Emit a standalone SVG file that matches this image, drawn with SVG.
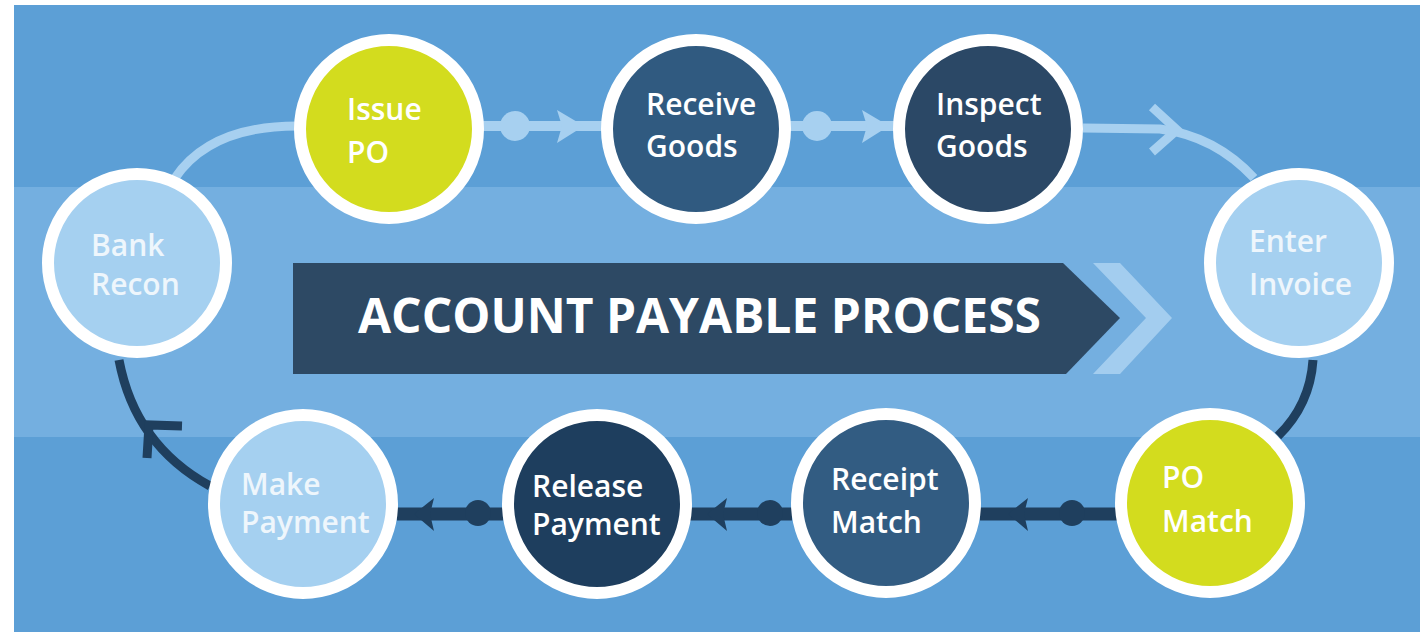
<svg xmlns="http://www.w3.org/2000/svg" width="1420" height="634" viewBox="0 0 1420 634">
<defs>
<style>
.node{stroke:#ffffff;stroke-width:12}
.lbl{font-family:"Open Sans","Liberation Sans",sans-serif;font-weight:600;font-size:30px;fill:#ffffff}
.lbl-soft{fill:#eef6fc}
.lt{stroke:#a7d0f0;stroke-width:9;fill:none}
.dk{stroke:#1f3f5e;stroke-width:9;fill:none}
.dkb{stroke:#1f3f5e;stroke-width:13;fill:none}
.ltb{stroke:#a7d0f0;stroke-width:10;fill:none}
</style>
</defs>
<rect x="0" y="0" width="1420" height="634" fill="#ffffff"/>
<rect x="14" y="5" width="1406" height="627" fill="#5c9fd6"/>
<rect x="14" y="187" width="1406" height="250" fill="#74afe0"/>

<g id="banner">
<polygon points="293,263 1063,263 1120,318 1066,374 293,374" fill="#2d4964"/>
<polygon points="1093,263 1120,263 1172,318 1120,374 1093,374 1146,318" fill="#a3cdef"/>
<text x="358" y="333" font-family="'Open Sans','Liberation Sans',sans-serif" font-weight="700" font-size="48" fill="#ffffff" textLength="683" lengthAdjust="spacingAndGlyphs">ACCOUNT PAYABLE PROCESS</text>
</g>

<g id="connectors">
<path class="lt" d="M 175 178 Q 210 126 297 126"/>
<line class="ltb" x1="483" y1="126" x2="602" y2="126"/>
<circle cx="515" cy="126" r="15" fill="#a7d0f0"/>
<polygon points="557,110 584,126 557,143 562,126" fill="#a7d0f0"/>
<line class="ltb" x1="790" y1="126" x2="895" y2="126"/>
<circle cx="817" cy="126" r="15" fill="#a7d0f0"/>
<polygon points="862,110 889,126 862,143 867,126" fill="#a7d0f0"/>
<path class="lt" d="M 1083 128 L 1160 129 Q 1215 136 1254 178"/>
<polyline class="lt" points="1152,107 1177,130 1152,152"/>
<path class="dk" d="M 1313 360 Q 1310 405 1278 436"/>
<line class="dkb" x1="980" y1="514" x2="1117" y2="514"/>
<circle cx="1072" cy="513" r="13" fill="#1f3f5e"/>
<polygon points="1008,514 1028,498 1024,514 1028,531" fill="#1f3f5e"/>
<line class="dkb" x1="690" y1="514" x2="792" y2="514"/>
<circle cx="770" cy="513" r="13" fill="#1f3f5e"/>
<polygon points="707,514 727,498 723,514 727,531" fill="#1f3f5e"/>
<line class="dkb" x1="397" y1="514" x2="503" y2="514"/>
<circle cx="478" cy="513" r="13" fill="#1f3f5e"/>
<polygon points="414,514 434,498 430,514 434,531" fill="#1f3f5e"/>
<path class="dk" d="M 119 360 Q 135 445 210 486"/>
<polyline class="dk" points="182,426 149,425 147,458"/>
</g>

<g id="issue-po">
<circle class="node" cx="389" cy="129" r="89" fill="#d3dc1e"/>
<text class="lbl" x="347" y="120">Issue</text>
<text class="lbl" x="347" y="163">PO</text>
</g>
<g id="receive-goods">
<circle class="node" cx="696" cy="129" r="89" fill="#305a80"/>
<text class="lbl" x="646" y="115">Receive</text>
<text class="lbl" x="646" y="157">Goods</text>
</g>
<g id="inspect-goods">
<circle class="node" cx="988" cy="129" r="89" fill="#2b4866"/>
<text class="lbl" x="936" y="115">Inspect</text>
<text class="lbl" x="936" y="157">Goods</text>
</g>
<g id="enter-invoice">
<circle class="node" cx="1299" cy="263" r="89" fill="#a5d0f0"/>
<text class="lbl lbl-soft" x="1249" y="252">Enter</text>
<text class="lbl lbl-soft" x="1249" y="295">Invoice</text>
</g>
<g id="po-match">
<circle class="node" cx="1210" cy="503" r="89" fill="#d3dc1e"/>
<text class="lbl" x="1162" y="488">PO</text>
<text class="lbl" x="1162" y="532">Match</text>
</g>
<g id="receipt-match">
<circle class="node" cx="886" cy="503" r="89" fill="#325c82"/>
<text class="lbl" x="831" y="490">Receipt</text>
<text class="lbl" x="831" y="533">Match</text>
</g>
<g id="release-payment">
<circle class="node" cx="597" cy="504" r="89" fill="#1e3e5e"/>
<text class="lbl" x="532" y="497">Release</text>
<text class="lbl" x="532" y="535">Payment</text>
</g>
<g id="make-payment">
<circle class="node" cx="303" cy="504" r="89" fill="#a5d0f0"/>
<text class="lbl lbl-soft" x="241" y="495">Make</text>
<text class="lbl lbl-soft" x="241" y="533">Payment</text>
</g>
<g id="bank-recon">
<circle class="node" cx="137" cy="263" r="89" fill="#a5d0f0"/>
<text class="lbl lbl-soft" x="91" y="256">Bank</text>
<text class="lbl lbl-soft" x="91" y="295">Recon</text>
</g>
</svg>
